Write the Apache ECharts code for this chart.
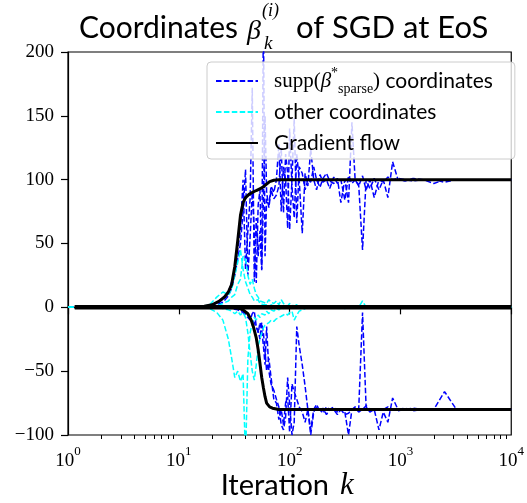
<!DOCTYPE html>
<html><head><meta charset="utf-8">
<script src="https://cdn.jsdelivr.net/npm/echarts@6/dist/echarts.min.js"></script>
<style>html,body{margin:0;padding:0;background:#fff}#c{width:527px;height:503px}</style>
</head><body><div id="c"></div>
<script>
// ---- iteration grid for SGD iterates ----
const iterK = [1,1.2,2,4,8,12,16,19,22,25,
  28,30,32,34,36,38,40,42,44,46,
  48,50,52,54,56,58,60,62,65,68,
  72,76,80,84,88,92,96,100,105,110,
  116,122,130,138,146,155,165,175,188,200,
  215,230,250,270,290,315,340,365,390,420,
  455,490,530,580,640,700,770,850,950,1100,
  1300,1600,2000,2500,3200,4200,5500,7500,10000];

// supp(beta*) coordinates (blue)
const suppA = [0,0,0,0,0,0,0.5,1,3,6,
  12,20,30,45,60,100,30,60,85,172,
  20,70,40,60,30,230,40,85,80,95,
  90,100,128,75,110,100,62,140,95,70,
  120,100,58,105,95,124,100,92,104,98,
  100,93,102,97,100,84,103,97,100,96,
  45,100,93,101,92,100,86,114,100,99,
  101,100,97,100,100,100,100,100,100];
const suppB = [0,0,0,0,0,0,0.3,0.8,2,4,
  9,15,25,38,50,75,108,25,55,90,
  60,19,80,92,29,85,150,90,78,92,
  85,88,95,125,74,120,105,61,100,148,
  66,110,105,92,100,98,110,100,94,101,
  105,99,97,101,82,100,82,145,100,95,
  103,92,100,86,100,98,102,100,101,100,
  99,100,100,98,100,100,100,100,100];
const suppC = [0,0,0,0,0,0,0,0,0,-0.3,
  -0.5,-1,-1.5,-2,-3,-4,-6,-8,-10,-5,
  -3,-15,-20,-12,-18,-30,-45,-15,-50,-60,
  -65,-72,-78,-92,-96,-86,-55,-54,-100,-90,
  -15,-30,-45,-62,-80,-96,-80,-76,-82,-79,
  -84,-80,-78,-82,-80,-84,-83,-80,-78,-80,
  -4,-78,-82,-80,-96,-82,-90,-71,-80,-79,
  -81,-80,-80,-66,-80,-80,-80,-80,-80];
const suppD = [0,0,0,0,0,0,0,0,0,0,
  0,0,-0.5,-1,-2,-3,-5,-6,-8,-10,
  -12,-16,-18,-25,-12,-20,-35,-50,-40,-55,
  -72,-75,-88,-80,-92,-75,-70,-98,-60,-66,
  -72,-78,-82,-90,-80,-100,-82,-78,-80,-83,
  -78,-80,-80,-84,-80,-82,-100,-80,-79,-82,
  -80,-77,-80,-81,-80,-80,-78,-80,-81,-80,
  -79,-80,-80,-80,-80,-80,-80,-80,-80];

// other coordinates (cyan)
const otherA = [0,0,0,0,0,0,0,-1,-4,-10,
  -25,-40,-55,-50,-58,-52,-120,-40,-20,-12,
  -8,-10,-6,-8,-5,-4,-6,-3,-5,-2,
  -3,-1,-2,0,-1,1,0,-1,0,1,
  0,0,0,0,0,0,0,0,0,0,
  0,0,0,0,0,0,0,0,0,0,
  0,0,0,0,0,0,0,0,0,0,
  0,0,0,0,0,0,0,0,0];
const otherB = [0,0,0,0,0,0,0,0,0,-1,
  -2,-3,-5,-3,-6,-4,-8,-20,-36,-50,
  -57,-45,-30,-25,-20,-16,-14,-13,-12,-10,
  -11,-9,-8,-7,-6,-5,-6,-4,-3,-10,
  -6,-3,-2,-1,0,1,0,-1,0,0,
  0,1,0,0,0,-1,0,0,0,0,
  0,0,0,0,0,0,0,0,0,0,
  0,0,0,0,0,0,0,0,0];
const otherC = [0,0,0,0,0,0,0.5,2,8,12,
  10,14,25,35,45,30,20,15,10,8,
  5,4,6,3,4,2,3,2,1,2,
  1,0,1,0,0,1,0,0,0,0,
  0,0,1,0,0,0,0,0,0,0,
  0,0,0,0,0,0,0,0,0,0,
  5,0,0,0,0,0,0,0,0,0,
  0,0,0,0,0,0,0,0,0];
const otherD = [0,0,0,0,0,0,0,0.5,1,3,
  5,8,10,18,22,40,38,25,18,22,
  15,10,8,5,6,4,5,3,6,4,
  3,5,2,6,3,2,1,3,2,1,
  2,1,0,0,0,0,0,0,0,0,
  0,0,0,0,0,0,0,0,0,0,
  0,0,0,0,0,0,0,0,0,0,
  0,0,0,0,0,0,0,0,0];

// gradient flow (black)
const gfPosK = [1.15,5,10,14,17,20,23,26,28,30,32,34,36,38,40,43,46,50,56,60,66,72,80,100,10000];
const gfPos  = [0,0,0,0.3,0.8,2,4.7,8.3,12,18,32,52,72,82,86,88.5,90,91.5,93.5,95.5,98.5,99.5,100,100,100];
const gfNegK = [1.15,10,20,28,32,35,38,42,45,47,50,52,54,56,58,60,62,66,70,80,100,10000];
const gfNeg  = [0,0,0,-0.1,-0.3,-0.8,-2,-5,-10,-15,-24,-33,-44,-55,-63,-70,-75,-78,-79,-80,-80,-80];
const gfZeroK = [1.15,10000];
const gfZero  = [0,0];

const xTickExponents = ['0','1','2','3','4'];
const minorMultipliers = [2,3,4,5,6,7,8,9];
const decades = [1,10,100,1000];

function pairs(ks, vs){ return ks.map((k,i)=>[k, vs[i]]); }

const BLUE='#0000ff', CYAN='#00ffff';
function dashed(name, color, vs){
  return {type:'line', name, data:pairs(iterK, vs), symbol:'none', silent:true,
    lineStyle:{color, width:1.5, type:[5.5,2.4]}, itemStyle:{color}, z:2};
}
function solid(ks, vs, w){
  return {type:'line', name:'gf', data:pairs(ks, vs), symbol:'none', silent:true,
    lineStyle:{color:'#000', width:w}, itemStyle:{color:'#000'}, z:3};
}

const minorTicks = [];
decades.forEach(d => minorMultipliers.forEach(m => minorTicks.push(Math.log10(m*d))));

const serif = '"Liberation Serif", "DejaVu Serif", serif';
const sans = 'Lato, "DejaVu Sans", sans-serif';

const chart = echarts.init(document.getElementById('c'), null, {renderer:'canvas'});
chart.setOption({
  animation:false,
  backgroundColor:'#fff',
  grid:{left:68, right:12, top:52, bottom:68, show:true, borderColor:'#000', borderWidth:1.2, backgroundColor:'transparent'},
  xAxis:[{
    type:'log', logBase:10, min:1, max:10000,
    axisLine:{show:true, lineStyle:{color:'#000', width:1.2}},
    axisTick:{show:true, inside:false, length:7, lineStyle:{color:'#000', width:1.2}},
    splitLine:{show:false}, minorTick:{show:false},
    axisLabel:{margin:10, color:'#000',
      formatter: v => '{b|10}{s|' + xTickExponents[Math.round(Math.log10(v))] + '}',
      rich:{ b:{fontFamily:serif, fontSize:19, color:'#000', lineHeight:26, verticalAlign:'bottom'},
             s:{fontFamily:serif, fontSize:13, color:'#000', lineHeight:26, verticalAlign:'top'} } }
  },{
    type:'value', min:0, max:4, position:'bottom',
    axisLine:{show:false}, axisLabel:{show:false}, splitLine:{show:false},
    axisTick:{show:true, inside:false, length:4, customValues:minorTicks, lineStyle:{color:'#000', width:1}}
  }],
  yAxis:{
    type:'value', min:-100, max:200, interval:50,
    axisLine:{show:true, lineStyle:{color:'#000', width:1.2}},
    axisTick:{show:true, inside:false, length:7, lineStyle:{color:'#000', width:1.2}},
    splitLine:{show:false},
    axisLabel:{margin:14, color:'#000', fontFamily:serif, fontSize:19,
      formatter: v => String(v).replace('-', '\u2212')}
  },
  legend:{
    orient:'vertical', left:207, top:62, itemWidth:42, itemHeight:10, itemGap:1,
    padding:[4,22,1,8],
    backgroundColor:'rgba(255,255,255,0.8)', borderColor:'#cccccc', borderWidth:1, borderRadius:4,
    itemStyle:{opacity:0},
    data:['supp','other','gf'],
    formatter: n => ({
      supp:'{m|supp(}{mi|β}{sp|*}{sb|sparse}{m|)} coordinates',
      other:'other coordinates',
      gf:'Gradient flow'})[n],
    textStyle:{fontFamily:sans, fontSize:21, color:'#000', lineHeight:30, padding:[0,0,0,11],
      rich:{
        m:{fontFamily:serif, fontSize:21, color:'#000', lineHeight:30},
        mi:{fontFamily:serif, fontStyle:'italic', fontSize:21, color:'#000', lineHeight:30},
        sp:{fontFamily:serif, fontSize:14, color:'#000', lineHeight:14, verticalAlign:'top'},
        sb:{fontFamily:serif, fontSize:14, color:'#000', lineHeight:14, verticalAlign:'bottom'}
      }}
  },
  graphic:[
    {type:'text', x:238, y:28, silent:true, style:{text:'Coordinates', align:'right', verticalAlign:'middle', font:'30px '+sans, fill:'#000'}},
    {type:'text', x:247, y:32, silent:true, style:{text:'β', align:'left', verticalAlign:'middle', font:'italic 28px '+serif, fill:'#000'}},
    {type:'text', x:262, y:11, silent:true, style:{text:'(i)', align:'left', verticalAlign:'middle', font:'italic 18px '+serif, fill:'#000'}},
    {type:'text', x:264, y:44, silent:true, style:{text:'k', align:'left', verticalAlign:'middle', font:'italic 19px '+serif, fill:'#000'}},
    {type:'text', x:296, y:28, silent:true, style:{text:'of SGD at EoS', align:'left', verticalAlign:'middle', font:'31px '+sans, fill:'#000'}},
    {type:'text', x:329, y:486, silent:true, style:{text:'Iteration', align:'right', verticalAlign:'middle', font:'29px '+sans, fill:'#000'}},
    {type:'text', x:340, y:486, silent:true, style:{text:'k', align:'left', verticalAlign:'middle', font:'italic 31px '+serif, fill:'#000'}}
  ],
  series:[
    dashed('supp', BLUE, suppA), dashed('supp', BLUE, suppB), dashed('supp', BLUE, suppC), dashed('supp', BLUE, suppD),
    dashed('other', CYAN, otherA), dashed('other', CYAN, otherB), dashed('other', CYAN, otherC), dashed('other', CYAN, otherD),
    solid(gfZeroK, gfZero, 4.5), solid(gfPosK, gfPos, 3), solid(gfNegK, gfNeg, 3)
  ]
});
</script></body></html>
